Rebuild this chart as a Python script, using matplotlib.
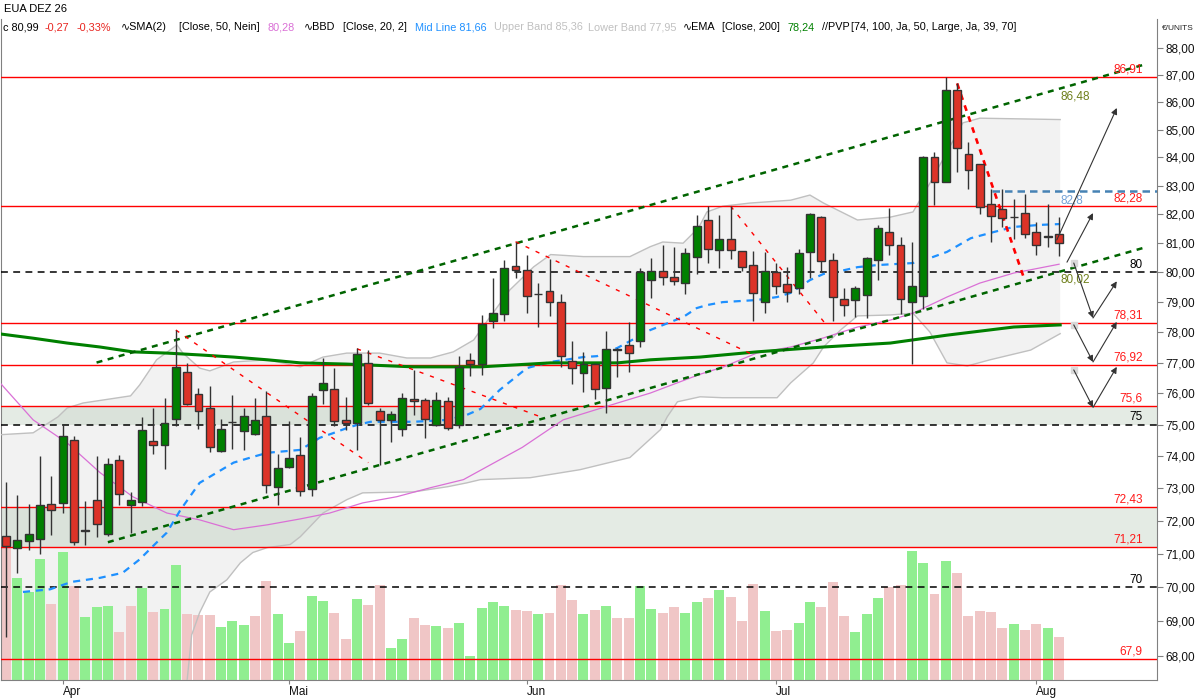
import numpy as np
import matplotlib
matplotlib.use("Agg")
import matplotlib.pyplot as plt
from matplotlib.ticker import FixedLocator, NullLocator, FuncFormatter

plt.rcParams['font.family'] = ['Liberation Sans', 'DejaVu Sans']
plt.rcParams['font.size'] = 8.5

# daily bars, index 0 = first bar on screen (late March)
opens = [71.53, 71.17, 71.38, 71.44, 72.52, 72.56, 74.52, 71.72, 72.64, 71.59,
         73.89, 72.48, 72.59, 74.48, 74.34, 75.17, 76.68, 75.97, 75.52, 74.16,
         75.08, 74.79, 74.71, 75.27, 73.04, 73.66, 74.05, 72.98, 76.10, 76.13,
         75.15, 75.04, 76.98, 75.42, 75.14, 74.85, 75.81, 75.80, 74.98, 75.74,
         74.98, 77.08, 76.95, 78.37, 78.59, 80.21, 80.07, 79.26, 79.37, 78.99,
         77.04, 76.65, 76.95, 76.16, 77.43, 77.59, 77.70, 79.73, 80.04, 79.84,
         79.64, 80.53, 81.79, 80.76, 81.13, 80.72, 80.24, 79.01, 80.00, 79.60,
         79.49, 80.70, 81.92, 80.42, 79.09, 79.06, 79.23, 80.42, 81.37, 80.93,
         78.99, 79.22, 84.00, 83.12, 86.43, 84.14, 83.78, 82.34, 82.17, 81.90,
         82.03, 81.37, 81.20, 81.30]
highs = [73.20, 72.80, 72.52, 74.02, 73.39, 74.98, 74.65, 72.62, 74.02, 73.95,
         74.05, 72.89, 75.24, 75.53, 75.86, 78.07, 76.98, 76.17, 76.24, 75.17,
         75.95, 75.53, 75.84, 76.09, 74.06, 75.13, 74.61, 76.02, 77.14, 76.82,
         75.87, 77.49, 77.41, 75.52, 75.44, 76.02, 76.76, 75.84, 76.06, 75.89,
         77.22, 77.30, 78.56, 79.80, 80.42, 81.05, 80.61, 79.64, 80.45, 79.27,
         77.71, 77.35, 76.97, 78.04, 77.48, 78.35, 80.16, 80.48, 80.94, 80.86,
         80.84, 81.97, 82.28, 81.97, 82.28, 80.73, 80.73, 80.70, 80.31, 80.17,
         80.81, 82.05, 81.93, 80.67, 79.48, 79.54, 80.52, 81.63, 82.22, 81.20,
         81.03, 84.05, 84.20, 86.92, 86.68, 84.56, 83.78, 82.87, 82.87, 82.52,
         82.72, 81.74, 82.37, 81.91]
lows = [68.55, 70.42, 71.13, 70.98, 71.58, 72.24, 71.28, 71.28, 71.50, 71.55,
        72.49, 71.63, 72.44, 74.08, 73.59, 74.94, 75.63, 74.85, 74.13, 74.14,
        74.23, 74.19, 74.68, 72.87, 72.49, 73.62, 72.75, 72.75, 75.66, 74.96,
        74.83, 74.20, 75.63, 73.72, 74.44, 74.64, 75.31, 74.56, 74.96, 74.83,
        74.89, 76.56, 76.59, 78.15, 78.37, 79.80, 78.65, 78.18, 78.55, 76.87,
        76.30, 76.04, 75.81, 75.36, 76.54, 76.70, 77.50, 79.15, 79.56, 79.56,
        79.26, 79.94, 80.33, 80.16, 80.47, 80.06, 78.37, 78.65, 79.27, 79.01,
        79.27, 79.80, 80.06, 78.37, 78.55, 78.51, 78.46, 79.74, 80.61, 78.59,
        76.95, 78.77, 82.32, 83.12, 83.49, 82.87, 82.01, 81.05, 81.55, 81.13,
        81.19, 80.61, 80.88, 80.56]
closes = [71.25, 71.43, 71.61, 72.48, 72.32, 74.64, 71.35, 71.70, 71.89, 73.77,
          72.84, 72.64, 74.84, 74.34, 75.04, 76.85, 75.67, 75.44, 74.29, 74.86,
          75.07, 75.27, 75.15, 73.11, 73.64, 73.95, 72.93, 75.90, 76.34, 75.11,
          75.05, 77.27, 75.68, 75.14, 75.33, 75.84, 75.74, 75.17, 75.80, 74.89,
          76.85, 76.94, 78.26, 78.62, 80.14, 80.07, 79.20, 79.27, 78.99, 77.21,
          76.82, 76.94, 76.13, 77.44, 77.42, 77.31, 80.00, 80.04, 79.85, 79.70,
          80.65, 81.58, 80.79, 81.16, 80.76, 80.17, 79.30, 80.04, 79.53, 79.33,
          80.65, 82.01, 80.38, 79.16, 78.89, 79.46, 80.48, 81.51, 80.93, 79.09,
          79.54, 84.00, 83.12, 86.43, 84.35, 83.54, 82.24, 81.95, 81.86, 81.91,
          81.30, 80.92, 81.26, 80.99]
volume = [13300, 10200, 8800, 12100, 7600, 12800, 9400, 6300, 7300, 7400,
          4800, 7400, 9200, 6800, 7100, 11500, 6600, 6500, 6500, 5300,
          5900, 5500, 6400, 9900, 6600, 3700, 4900, 8400, 7900, 6700,
          4100, 8100, 7500, 9500, 3200, 4100, 6200, 5500, 5400, 5200,
          5700, 2400, 7200, 7800, 7400, 7000, 6900, 6600, 6700, 9500,
          8000, 6600, 7000, 7400, 6200, 6200, 9400, 7100, 6700, 7300,
          6700, 7800, 8200, 9000, 8300, 5900, 9600, 6900, 4900, 5000,
          5700, 7800, 7300, 9800, 6400, 4800, 6600, 8200, 9300, 9500,
          12900, 11700, 8600, 11900, 10700, 6400, 6900, 6800, 5200, 5600,
          5000, 5600, 5200, 4300]

month_pos = [5, 25, 46, 68, 91]
month_lbl = ['Apr', 'Mai', 'Jun', 'Jul', 'Aug']

# indicators at sample bars
sma_x = [-0.5, 2.4, 5.4, 8.3, 11.2, 14.2, 17.1, 20.1, 23.1, 26.0, 28.6, 31.5, 34.5, 37.5, 40.4,
         45.6, 49.2, 54.0, 56.9, 61.3, 63.3, 66.3, 69.3, 72.2, 75.2, 78.1, 80.1, 83.1, 86.0, 89.0, 93.0]
sma_y = [76.33, 75.15, 74.42, 73.49, 72.74, 72.24, 72.03, 71.73, 71.88, 72.06, 72.24, 72.55, 72.74, 73.02, 73.27,
         74.28, 75.15, 75.69, 76.01, 76.62, 76.85, 77.31, 77.51, 77.81, 78.17, 78.40, 78.63, 79.17, 79.64, 79.98, 80.28]

bb_up_x = [-0.5, 2.4, 4.6, 5.4, 6.8, 11.0, 11.8, 13.3, 15.1, 15.6, 17.1, 18.0, 20.1, 23.1, 26.0, 28.0,
           30.1, 33.0, 35.4, 37.5, 39.5, 41.3, 42.1, 43.4, 44.5, 46.6, 48.1, 51.0, 55.1, 56.9, 58.0, 59.8,
           60.7, 61.3, 61.9, 63.3, 65.7, 69.3, 71.0, 72.2, 75.2, 78.1, 80.1, 81.6, 84.5, 86.0, 93.1]
bb_up_y = [74.68, 74.74, 75.25, 75.53, 75.69, 75.92, 76.27, 77.09, 77.58, 77.32, 76.82, 76.73, 77.02, 77.09, 76.86, 77.18,
           77.31, 77.31, 77.15, 77.15, 77.35, 77.74, 78.17, 78.84, 79.41, 80.19, 80.61, 80.54, 80.54, 80.88, 81.04, 81.00,
           81.35, 81.63, 82.08, 82.28, 82.39, 82.49, 82.67, 82.39, 81.80, 81.90, 82.08, 83.09, 85.24, 85.41, 85.36]
bb_lo_x = [-0.5, 5.0, 10.0, 14.0, 16.0, 16.4, 17.1, 18.0, 19.5, 20.7, 21.8, 23.1, 25.1, 26.0, 28.0,
           30.1, 31.5, 36.0, 39.0, 40.7, 41.9, 46.3, 50.7, 55.1, 57.8, 58.4, 59.3, 61.3, 63.3, 68.1,
           69.3, 71.3, 72.2, 73.7, 75.2, 78.1, 80.1, 81.6, 83.1, 84.9, 86.9, 90.5, 93.1]
bb_lo_y = [65.8, 65.4, 65.6, 66.4, 67.3, 68.6, 69.25, 69.86, 70.22, 70.73, 71.04, 71.19, 71.28, 71.52, 72.24,
           72.65, 72.86, 72.89, 73.05, 73.17, 73.27, 73.33, 73.58, 73.96, 74.84, 75.25, 75.73, 75.89, 75.86, 75.86,
           76.34, 76.99, 77.51, 78.07, 78.54, 78.57, 78.63, 78.0, 76.99, 76.89, 77.09, 77.41, 77.95]
bb_mid_x = [1.5, 3.9, 5.8, 8.3, 10.3, 11.8, 13.3, 14.2, 15.4, 17.1, 20.1, 21.8, 23.1, 26.0, 27.7, 28.9, 30.1,
            31.0, 32.2, 36.0, 39.0, 40.7, 41.9, 43.6, 46.0, 48.1, 51.0, 52.2, 54.0, 56.9, 59.8, 61.0, 61.9,
            63.3, 66.3, 68.1, 69.3, 71.0, 72.2, 73.7, 75.2, 76.9, 80.1, 81.6, 83.1, 85.2, 87.2, 89.0, 91.3, 93.1]
bb_mid_y = [69.86, 69.94, 70.16, 70.28, 70.43, 70.83, 71.34, 71.64, 72.33, 73.17, 73.80, 73.98, 74.11, 74.20, 74.58,
            74.73, 74.89, 74.99, 75.09, 75.09, 75.15, 75.31, 75.50, 76.11, 76.82, 77.02, 77.18, 77.21, 77.48, 78.07,
            78.50, 78.80, 78.90, 79.00, 79.07, 79.17, 79.31, 79.74, 79.95, 80.05, 80.18, 80.25, 80.32, 80.49, 80.70,
            81.17, 81.38, 81.56, 81.63, 81.66]
ema_x = [-0.5, 2.4, 5.4, 8.3, 11.2, 14.2, 17.1, 20.1, 23.1, 26.0, 30.1, 36.0, 41.9, 48.1, 54.0, 56.9,
         61.3, 66.3, 72.2, 78.1, 83.1, 89.0, 93.1]
ema_y = [77.94, 77.80, 77.64, 77.51, 77.35, 77.31, 77.25, 77.18, 77.09, 76.99, 76.95, 76.86, 76.86, 76.99, 76.99, 77.09,
         77.18, 77.35, 77.51, 77.64, 77.90, 78.17, 78.24]

red_levels = [86.91, 82.28, 78.31, 76.92, 75.6, 72.43, 71.21, 67.9]
red_labels = ['86,91', '82,28', '78,31', '76,92', '75,6', '72,43', '71,21', '67,9']
black_levels = [80, 75, 70]
black_labels = ['80', '75', '70']
zones = [(75.0, 75.6), (71.21, 72.43)]
blue_level = 82.8

# trend channel (bar, price) anchor points
chan_up = (8, 77.0, 93, 86.48)
chan_lo = (9, 71.35, 93, 80.02)
# descending red trend lines (bar0, price0, bar1, price1)
red_trends = [(15, 78.07, 32, 73.80), (31, 77.45, 47.2, 75.25),
              (45, 81.05, 66, 77.25), (64, 82.28, 72.6, 78.17)]
red_trend_bold = (84, 86.68, 89.9, 79.81)

# scenario arrows ((from bar, price), (to bar, price))
arrows = [((92.8, 81.11), (98.1, 85.78)),
          ((93.7, 80.35), (96.0, 82.04)),
          ((94.3, 80.32), (96.0, 78.47)), ((96.0, 78.47), (98.1, 79.70)),
          ((94.3, 78.24), (96.0, 77.02)), ((96.0, 77.02), (98.1, 78.34)),
          ((94.3, 76.76), (96.0, 75.55)), ((96.0, 75.55), (98.1, 76.86))]
arrow_nodes_x = [94.3, 94.3, 94.3]
arrow_nodes_y = [80.32, 78.24, 76.76]

n = len(closes)
idx = np.arange(n)
o = np.array(opens); c = np.array(closes)

fig = plt.figure(figsize=(12, 7), dpi=100)
ax = fig.add_axes([1 / 1200, 20 / 700, 1156 / 1200, 661 / 700])
ax.set_yscale('log')
ax.set_xlim(-0.44, 101.65)
ax.set_ylim(67.30, 89.08)
ax.set_autoscale_on(False)

# bollinger band area + support zones
ax.fill(np.r_[bb_up_x, bb_lo_x[::-1]], np.r_[bb_up_y, bb_lo_y[::-1]],
        color='#f2f2f2', lw=0, zorder=1)
for lo, hi in zones:
    ax.axhspan(lo, hi, color=(0.58, 0.70, 0.58), alpha=0.25, lw=0, zorder=1.2)

# volume, drawn in the lower part of the panel
VOL_FULL = 66100
vol_cols = []
for i in range(n):
    prev = closes[i - 1] if i else opens[i]
    vol_cols.append('#90ee90' if closes[i] >= prev else '#f0c6c6')
ax.bar(idx, np.array(volume) / VOL_FULL, width=0.88, bottom=0, color=vol_cols, lw=0,
       transform=ax.get_xaxis_transform(), zorder=2)

ax.plot(bb_up_x, bb_up_y, color='#c0c0c0', lw=1, zorder=3)
ax.plot(bb_lo_x, bb_lo_y, color='#c0c0c0', lw=1, zorder=3)

for lvl, lbl in zip(red_levels, red_labels):
    ax.axhline(lvl, color='#ff0000', lw=1, zorder=3)
    ax.annotate(lbl, (100.4, lvl), xytext=(0, 1), textcoords='offset points',
                ha='right', va='bottom', color='#ff1a1a', fontsize=8.5, zorder=7)
for lvl, lbl in zip(black_levels, black_labels):
    ax.axhline(lvl, color='black', lw=1.1, ls=(0, (4.5, 3.5)), zorder=3)
    ax.annotate(lbl, (100.4, lvl), xytext=(0, 1), textcoords='offset points',
                ha='right', va='bottom', color='black', fontsize=8.5, zorder=7)

ax.plot([87.1, 101.65], [blue_level, blue_level], color='#4682b4', lw=1.8,
        ls=(0, (3, 2)), zorder=3)
ax.annotate('82,8', (93.1, blue_level), xytext=(0, -2), textcoords='offset points',
            ha='left', va='top', color='#74a2d6', fontsize=8.5, zorder=7)

ax.plot(sma_x, sma_y, color='#da70d6', lw=0.9, zorder=4)
ax.plot(bb_mid_x, bb_mid_y, color='#1e90ff', lw=1.6, ls=(0, (3.2, 2.6)), zorder=4)
ax.plot(ema_x, ema_y, color='#008000', lw=2.2, zorder=4)


def chan_pts(i0, p0, i1, p1, x_end):
    xs = np.array([i0, x_end])
    return xs, p0 * (p1 / p0) ** ((xs - i0) / (i1 - i0))


for ch in (chan_up, chan_lo):
    xs, ys = chan_pts(*ch, 100.6)
    ax.plot(xs, ys, color='#006400', lw=1.8, ls=(0, (2.4, 2.2)), zorder=4)
ax.annotate('86,48', (93.1, chan_up[3]), xytext=(0, -1), textcoords='offset points',
            ha='left', va='top', color='#6e7f1a', fontsize=8.5, zorder=7)
ax.annotate('80,02', (93.1, chan_lo[3]), xytext=(0, -1), textcoords='offset points',
            ha='left', va='top', color='#6e7f1a', fontsize=8.5, zorder=7)

for i0, p0, i1, p1 in red_trends:
    ax.plot([i0, i1], [p0, p1], color='#ff0000', lw=1, ls=(0, (3, 5)), zorder=4.5)
i0, p0, i1, p1 = red_trend_bold
ax.plot([i0, i1], [p0, p1], color='#ff0000', lw=1.9, ls=(0, (2.2, 2.2)), zorder=4.5)

# candles
body_cols = []
for oo, cc in zip(opens, closes):
    if abs(cc - oo) < 0.03:
        body_cols.append('#333333')
    elif cc > oo:
        body_cols.append('#008000')
    else:
        body_cols.append('#dc3328')
ax.vlines(idx, lows, highs, color='#333333', lw=1, zorder=5)
ax.bar(idx, np.abs(c - o), bottom=np.minimum(o, c), width=0.7, color=body_cols,
       edgecolor='#333333', linewidth=1, zorder=6)

# scenario arrows
ax.plot(arrow_nodes_x, arrow_nodes_y, 's', ms=4, color='#d9d9d9', zorder=6)
for (x0, y0), (x1, y1) in arrows:
    ax.annotate('', xy=(x1, y1), xytext=(x0, y0),
                arrowprops=dict(arrowstyle='-|>', color='#333333', lw=0.8,
                                shrinkA=0, shrinkB=0, mutation_scale=9), zorder=7)

# axes styling
for side in ('left', 'bottom', 'right'):
    ax.spines[side].set_color('#808080')
ax.spines['top'].set_visible(False)
ax.yaxis.tick_right()
ax.yaxis.set_major_locator(FixedLocator(list(range(68, 89))))
ax.yaxis.set_minor_locator(NullLocator())
ax.yaxis.set_major_formatter(FuncFormatter(lambda v, p: f"{v:.2f}".replace('.', ',')))
ax.tick_params(axis='y', direction='out', length=4, width=0.8, color='#808080',
               labelsize=8.5, labelcolor='#111111', pad=2)
ax.set_xticks(month_pos)
ax.set_xticklabels(month_lbl)
ax.xaxis.set_minor_locator(NullLocator())
ax.tick_params(axis='x', direction='out', length=3, width=0.8, color='#808080',
               labelsize=8.5, labelcolor='#111111', pad=1)
for t in ax.get_xticklabels():
    t.set_ha('left')

# header / legend
fig.text(4 / 1200, 1 - 9 / 700, 'EUA DEZ 26', fontsize=8, va='center', color='black')
legend_items = [
    (3, 'c 80,99', 'black'), (45, '-0,27', '#e8241f'), (77, '-0,33%', '#e8241f'),
    (121, '∿SMA(2)', 'black'), (179, '[Close, 50, Nein]', 'black'), (268, '80,28', '#da70d6'),
    (304, '∿BBD', 'black'), (343, '[Close, 20, 2]', 'black'), (415, 'Mid Line 81,66', '#1e90ff'),
    (494, 'Upper Band 85,36', '#c0c0c0'), (588, 'Lower Band 77,95', '#c0c0c0'),
    (683, '∿EMA', 'black'), (722, '[Close, 200]', 'black'), (788, '78,24', '#008000'),
    (822, '//PVP', 'black'), (851, '[74, 100, Ja, 50, Large, Ja, 39, 70]', 'black'),
]
for xp, txt, col in legend_items:
    fig.text(xp / 1200, 1 - 27 / 700, txt, fontsize=7.8, va='center', color=col)
fig.text(1162 / 1200, 1 - 28 / 700, '€/UNITS', fontsize=6, va='center', color='#222222')

fig.savefig('out.png', dpi=100)
